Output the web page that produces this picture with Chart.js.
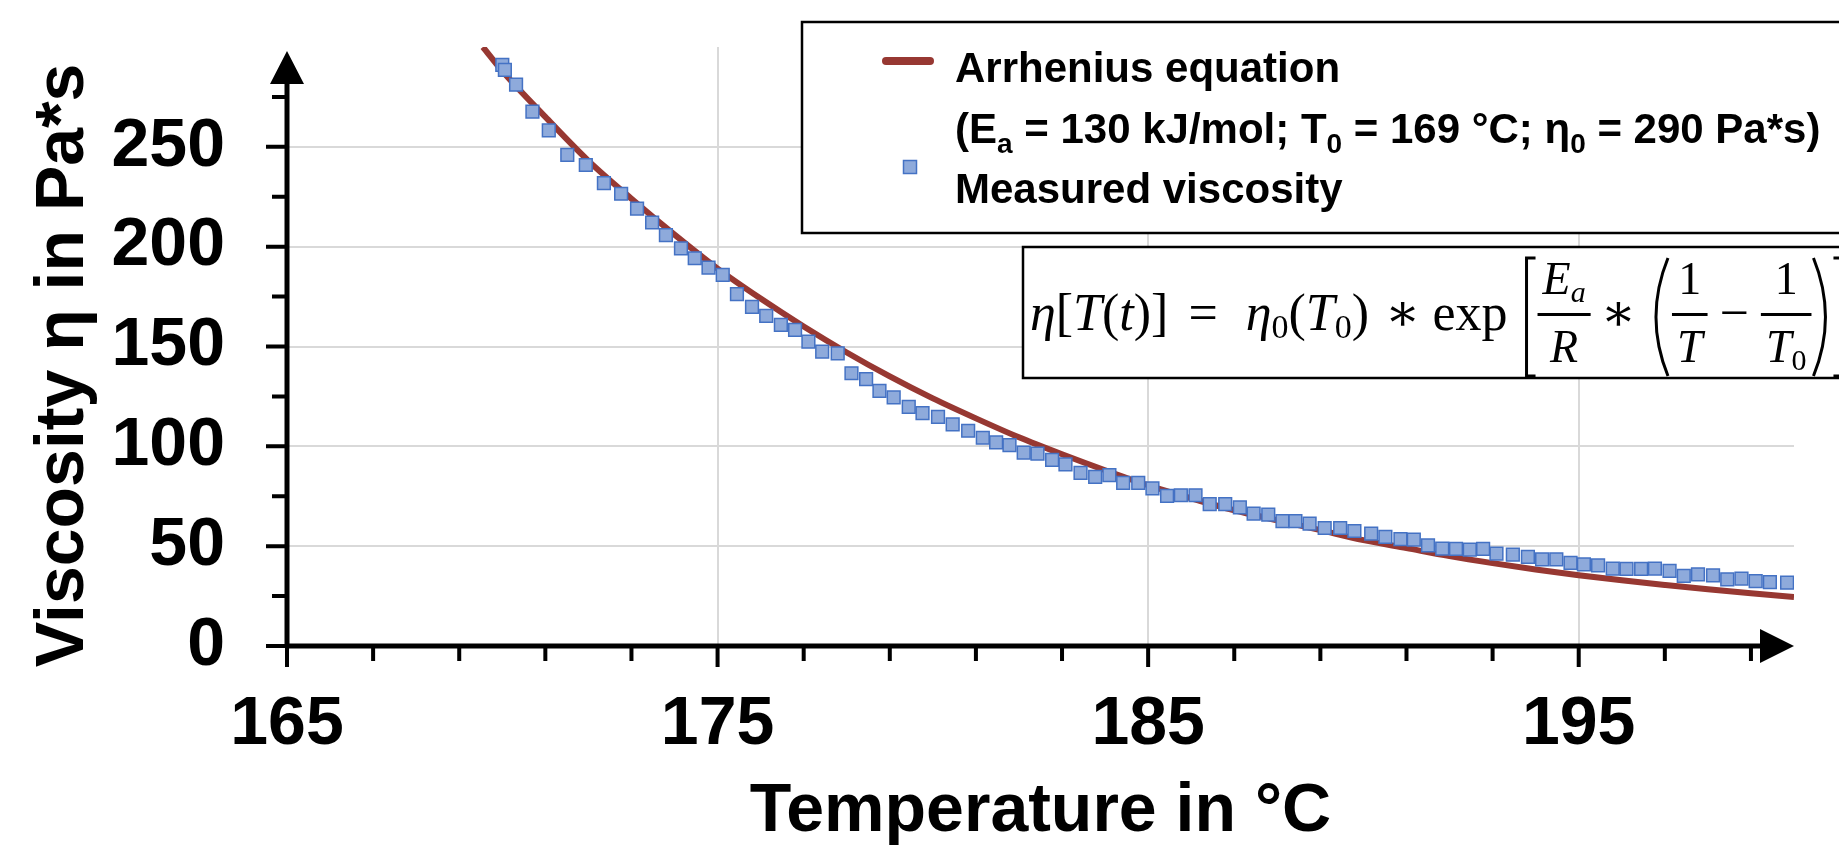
<!DOCTYPE html>
<html>
<head>
<meta charset="utf-8">
<script src="https://cdn.jsdelivr.net/npm/chart.js@4.4.1/dist/chart.umd.min.js"></script>
<style>
    html, body {
        margin: 0;
        padding: 0;
        background: #fff;
    }
</style>
</head>
<body>
<canvas id="canvas" width="1839" height="846"></canvas>
<script>
    // measured viscosity (temperature in °C, viscosity in Pa*s)
    var measuredTemp = [170.00, 170.06, 170.32, 170.70, 171.08, 171.51, 171.94, 172.36, 172.76, 173.13,
        173.48, 173.80, 174.15, 174.47, 174.79, 175.12, 175.45, 175.80, 176.13, 176.47,
        176.80, 177.11, 177.43, 177.79, 178.11, 178.45, 178.76, 179.09, 179.44, 179.76,
        180.12, 180.46, 180.82, 181.16, 181.47, 181.78, 182.11, 182.43, 182.77, 183.08,
        183.43, 183.77, 184.10, 184.42, 184.77, 185.10, 185.44, 185.76, 186.10, 186.43,
        186.79, 187.13, 187.45, 187.79, 188.12, 188.42, 188.75, 189.10, 189.46, 189.79,
        190.18, 190.51, 190.86, 191.17, 191.50, 191.83, 192.15, 192.47, 192.78, 193.09,
        193.47, 193.82, 194.15, 194.48, 194.81, 195.12, 195.45, 195.79, 196.11, 196.45,
        196.77, 197.11, 197.44, 197.77, 198.12, 198.45, 198.78, 199.11, 199.44, 199.84];
    var measuredVisc = [291.0, 288.5, 281.1, 267.6, 258.2, 246.0, 240.9, 231.8, 226.5, 219.1,
        212.1, 205.8, 199.1, 194.2, 189.5, 185.9, 176.2, 169.8, 165.3, 160.8,
        158.3, 152.4, 147.4, 146.6, 136.6, 133.7, 127.8, 124.5, 119.8, 116.6,
        114.8, 111.0, 107.8, 104.3, 102.0, 100.6, 96.9, 96.4, 93.2, 91.0,
        86.7, 84.7, 85.6, 81.7, 81.7, 78.9, 75.2, 75.5, 75.5, 71.0,
        71.0, 69.4, 66.3, 65.8, 62.5, 62.5, 61.3, 59.1, 59.1, 57.6,
        56.3, 54.6, 53.5, 53.3, 50.4, 48.8, 48.6, 48.3, 48.6, 46.3,
        45.8, 44.6, 43.4, 43.4, 41.6, 40.9, 40.4, 38.8, 38.6, 38.6,
        38.8, 37.6, 35.1, 35.9, 35.4, 33.4, 33.8, 32.5, 32.0, 31.7];

    // Arrhenius curve
    var fitTemp = [169.55, 170, 171, 172, 173, 174, 175, 176, 177, 178, 179, 180, 181, 182, 183, 184,
        185, 186, 187, 188, 189, 190, 191, 192, 193, 194, 195, 196, 197, 198, 199, 200];
    var fitVisc = [300, 288, 265, 243, 224, 206, 189, 174, 160, 147, 135, 124, 114, 104.5, 96, 88,
        80.5, 74, 68, 63, 58, 53, 49, 45, 41.5, 38.3, 35.4, 32.9, 30.6, 28.4, 26.4, 24.5];

    var xTicks = [165, 175, 185, 195];
    var yTicks = [0, 50, 100, 150, 200, 250];
    var xMinorStep = 2;
    var yMinorStep = 25;

    var SANS = '"Liberation Sans", Arial, sans-serif';
    var SERIF = '"Liberation Serif", "DejaVu Serif", serif';
    var lineColor = '#973832';
    var markerFill = '#8eaadb';
    var markerEdge = '#4472c4';

    function pairs(xs, ys) {
        return xs.map(function(v, i) {
            return { x: v, y: ys[i] };
        });
    }

    function drawFormula(ctx, left, base) {
        var it = 'italic 52px ' + SERIF;
        var rm = '52px ' + SERIF;
        var sub = '34px ' + SERIF;
        var fIt = 'italic 46px ' + SERIF;
        var fRm = '46px ' + SERIF;
        var fSub = '30px ' + SERIF;
        var top = base - 72, bot = base + 46;
        var x = left;

        function width(parts) {
            return parts.reduce(function(s, p) {
                ctx.font = p[1];
                return s + ctx.measureText(p[0]).width;
            }, 0);
        }

        function run(parts, px, py) {
            parts.forEach(function(p) {
                ctx.font = p[1];
                ctx.fillText(p[0], px, py + (p[2] || 0));
                px += ctx.measureText(p[0]).width;
            });
        }

        function put(parts, gap) {
            run(parts, x, base);
            x += width(parts) + (gap || 0);
        }

        function frac(num, den) {
            var w = Math.max(width(num), width(den)) + 10;
            run(num, x + (w - width(num)) / 2, base - 36);
            run(den, x + (w - width(den)) / 2, base + 32);
            ctx.fillRect(x, base - 17, w, 3);
            x += w;
        }

        function bracket(open) {
            ctx.beginPath();
            if (open) {
                ctx.moveTo(x + 12, top); ctx.lineTo(x + 3, top); ctx.lineTo(x + 3, bot); ctx.lineTo(x + 12, bot);
            } else {
                ctx.moveTo(x, top); ctx.lineTo(x + 9, top); ctx.lineTo(x + 9, bot); ctx.lineTo(x, bot);
            }
            ctx.stroke();
            x += 14;
        }

        function paren(open) {
            ctx.beginPath();
            if (open) {
                ctx.moveTo(x + 18, top);
                ctx.quadraticCurveTo(x - 6, (top + bot) / 2, x + 18, bot);
            } else {
                ctx.moveTo(x + 2, top);
                ctx.quadraticCurveTo(x + 26, (top + bot) / 2, x + 2, bot);
            }
            ctx.stroke();
            x += 22;
        }

        ctx.save();
        ctx.fillStyle = '#000';
        ctx.strokeStyle = '#000';
        ctx.lineWidth = 3;
        ctx.textBaseline = 'alphabetic';
        ctx.textAlign = 'left';

        put([['η', it], ['[', rm], ['T', it], ['(', rm], ['t', it], [')', rm], [']', rm]], 20);
        put([['=', rm]], 28);
        put([['η', it], ['0', sub, 8], ['(', rm], ['T', it], ['0', sub, 8], [')', rm]], 16);
        put([['∗', rm]], 12);
        put([['exp', rm]], 16);
        bracket(true);
        frac([['E', fIt], ['a', 'italic 30px ' + SERIF, 8]], [['R', fIt]]);
        x += 10;
        put([['∗', rm]], 14);
        paren(true);
        frac([['1', fRm]], [['T', fIt]]);
        x += 12;
        put([['−', rm]], 12);
        frac([['1', fRm]], [['T', fIt], ['0', fSub, 8]]);
        paren(false);
        bracket(false);
        ctx.restore();
    }

    var decor = {
        id: 'decor',
        afterDraw: function(chart) {
            var ctx = chart.ctx;
            var x = chart.scales.x, y = chart.scales.y;
            var x0 = x.getPixelForValue(x.min), x1 = x.getPixelForValue(x.max);
            var y0 = y.getPixelForValue(y.min), y1 = y.getPixelForValue(y.max);
            var v, p, len;

            ctx.save();
            ctx.strokeStyle = '#000';
            ctx.fillStyle = '#000';

            // tick marks
            ctx.lineWidth = 4;
            ctx.beginPath();
            for (v = y.min; v < y.max; v += yMinorStep) {
                p = y.getPixelForValue(v);
                len = yTicks.indexOf(v) >= 0 ? 21 : 15;
                ctx.moveTo(x0 - len, p);
                ctx.lineTo(x0, p);
            }
            for (v = x.min; v < x.max; v += xMinorStep) {
                p = x.getPixelForValue(v);
                len = xTicks.indexOf(v) >= 0 ? 21 : 15;
                ctx.moveTo(p, y0);
                ctx.lineTo(p, y0 + len);
            }
            ctx.stroke();

            // axis lines with arrows
            ctx.lineWidth = 5;
            ctx.beginPath();
            ctx.moveTo(x0, y0 + 2);
            ctx.lineTo(x0, y1 + 36);
            ctx.moveTo(x0 - 2, y0);
            ctx.lineTo(x1 - 32, y0);
            ctx.stroke();
            ctx.beginPath();
            ctx.moveTo(x0, y1 + 4);
            ctx.lineTo(x0 + 17, y1 + 37);
            ctx.lineTo(x0 - 17, y1 + 37);
            ctx.closePath();
            ctx.moveTo(x1, y0);
            ctx.lineTo(x1 - 34, y0 - 17);
            ctx.lineTo(x1 - 34, y0 + 17);
            ctx.closePath();
            ctx.fill();

            // legend box
            var ds = chart.data.datasets;
            ctx.fillStyle = '#fff';
            ctx.fillRect(802, 22, 1100, 211);
            ctx.lineWidth = 2.5;
            ctx.strokeRect(802, 22, 1100, 211);

            ctx.strokeStyle = ds[1].borderColor;
            ctx.lineWidth = 8;
            ctx.lineCap = 'round';
            ctx.beginPath();
            ctx.moveTo(886, 61);
            ctx.lineTo(930, 61);
            ctx.stroke();
            ctx.lineCap = 'butt';

            ctx.fillStyle = ds[0].backgroundColor;
            ctx.strokeStyle = ds[0].borderColor;
            ctx.lineWidth = 1.5;
            ctx.fillRect(903.5, 160.5, 13, 13);
            ctx.strokeRect(903.5, 160.5, 13, 13);

            ctx.fillStyle = '#000';
            ctx.textAlign = 'left';
            ctx.textBaseline = 'alphabetic';
            var big = 'bold 42px ' + SANS, small = 'bold 28px ' + SANS;
            ctx.font = big;
            ctx.fillText(ds[1].label, 955, 82);
            var tx = 955;
            [['(E', big, 0], ['a', small, 10], [' = 130 kJ/mol; T', big, 0], ['0', small, 10],
                [' = 169 °C; η', big, 0], ['0', small, 10], [' = 290 Pa*s)', big, 0]].forEach(function(s) {
                ctx.font = s[1];
                ctx.fillText(s[0], tx, 143 + s[2]);
                tx += ctx.measureText(s[0]).width;
            });
            ctx.font = big;
            ctx.fillText(ds[0].label, 955, 203);

            // formula box
            ctx.fillStyle = '#fff';
            ctx.fillRect(1023, 247, 900, 131);
            ctx.strokeStyle = '#000';
            ctx.lineWidth = 2.5;
            ctx.strokeRect(1023, 247, 900, 131);
            drawFormula(ctx, 1030, 330);

            ctx.restore();
        }
    };

    var tickFont = { family: SANS, size: 68, weight: 'bold', lineHeight: 1 };

    var chart = new Chart(document.getElementById('canvas').getContext('2d'), {
        type: 'scatter',
        data: {
            datasets: [{
                label: 'Measured viscosity',
                data: pairs(measuredTemp, measuredVisc),
                pointStyle: 'rect',
                pointRadius: 9,
                pointHoverRadius: 9,
                backgroundColor: markerFill,
                borderColor: markerEdge,
                borderWidth: 1.5,
                showLine: false,
                order: 0
            }, {
                label: 'Arrhenius equation',
                type: 'line',
                data: pairs(fitTemp, fitVisc),
                borderColor: lineColor,
                backgroundColor: lineColor,
                borderWidth: 6,
                pointRadius: 0,
                cubicInterpolationMode: 'monotone',
                fill: false,
                order: 1
            }]
        },
        options: {
            responsive: false,
            animation: false,
            devicePixelRatio: 1,
            layout: {
                padding: { left: 0, top: 47, right: 45, bottom: 0 }
            },
            plugins: {
                legend: { display: false },
                tooltip: { enabled: false }
            },
            scales: {
                x: {
                    type: 'linear',
                    min: 165,
                    max: 200,
                    afterBuildTicks: function(s) {
                        s.ticks = xTicks.map(function(v) { return { value: v }; });
                    },
                    afterFit: function(s) {
                        s.height = 200;
                        s.paddingLeft = 0;
                        s.paddingRight = 0;
                    },
                    border: { display: false },
                    grid: {
                        drawTicks: false,
                        lineWidth: 2,
                        color: function(c) {
                            return c.tick && c.tick.value === 165 ? 'rgba(0,0,0,0)' : '#d9d9d9';
                        }
                    },
                    ticks: {
                        color: '#000',
                        font: tickFont,
                        padding: 45,
                        maxRotation: 0,
                        autoSkip: false
                    },
                    title: {
                        display: true,
                        text: 'Temperature in °C',
                        color: '#000',
                        font: tickFont,
                        padding: 0
                    }
                },
                y: {
                    type: 'linear',
                    min: 0,
                    max: 300,
                    afterBuildTicks: function(s) {
                        s.ticks = yTicks.map(function(v) { return { value: v }; });
                    },
                    afterFit: function(s) {
                        s.width = 287;
                        s.paddingTop = 0;
                        s.paddingBottom = 0;
                    },
                    border: { display: false },
                    grid: {
                        drawTicks: false,
                        lineWidth: 2,
                        color: function(c) {
                            return c.tick && c.tick.value === 0 ? 'rgba(0,0,0,0)' : '#d9d9d9';
                        }
                    },
                    ticks: {
                        color: '#000',
                        font: tickFont,
                        padding: 62
                    },
                    title: {
                        display: true,
                        // trailing spaces nudge the rotated title a bit lower, as in the original
                        text: 'Viscosity η in Pa*s  ',
                        color: '#000',
                        font: tickFont,
                        padding: { top: 30, bottom: 0 }
                    }
                }
            }
        },
        plugins: [decor]
    });
</script>
</body>
</html>
